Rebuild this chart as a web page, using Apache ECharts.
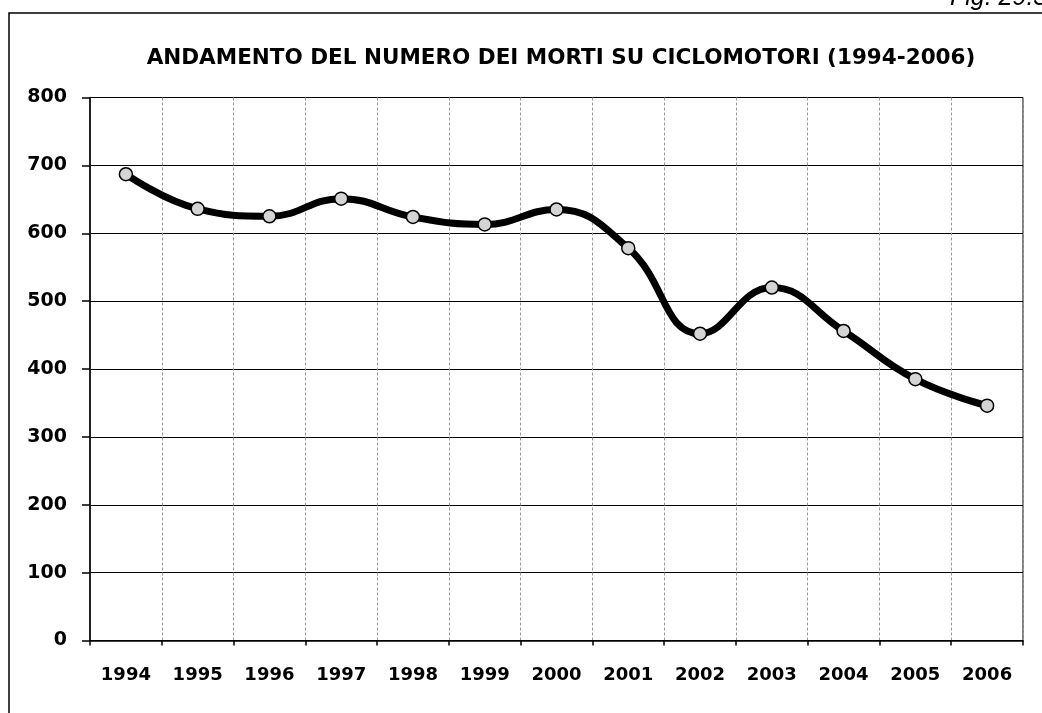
<!DOCTYPE html>
<html>
<head>
<meta charset="utf-8">
<script src="https://cdn.jsdelivr.net/npm/echarts@6/dist/echarts.min.js"></script>
<style>
html,body{margin:0;padding:0;background:#fff;}
#main{width:1042px;height:713px;}
</style>
</head>
<body>
<div id="main"></div>
<script>
var titleText = 'ANDAMENTO DEL NUMERO DEI MORTI SU CICLOMOTORI (1994-2006)';
var figLabel = 'Fig. 29.3';
var years = ['1994','1995','1996','1997','1998','1999','2000','2001','2002','2003','2004','2005','2006'];
var deaths = [687, 636, 625, 651, 624, 613, 635, 578, 452, 520, 456, 385, 346];
var yMin = 0, yMax = 800, yStep = 100;

var chart = echarts.init(document.getElementById('main'), null, {renderer:'canvas'});
chart.setOption({
  backgroundColor:'#fff',
  animation:false,
  title:{
    text:titleText,
    left:556, top:42, textAlign:'center',
    textStyle:{fontFamily:'DejaVu Sans', fontWeight:'bold', fontSize:21.5, color:'#000'}
  },
  graphic:[
    {type:'rect', shape:{x:9, y:13, width:1100, height:800}, style:{fill:null, stroke:'#000', lineWidth:1.5}, silent:true},
    {type:'text', left:950, top:-14, style:{text:figLabel, font:'italic 25px "Liberation Sans"', fill:'#000'}}
  ],
  grid:{left:90, right:19, top:97.5, bottom:72.5, show:true, borderColor:'#000', borderWidth:1, containLabel:false},
  xAxis:{
    type:'category', data:years, boundaryGap:true,
    axisLine:{lineStyle:{color:'#000', width:1.5}},
    axisTick:{show:true, length:5, lineStyle:{color:'#000', width:1.5}},
    axisLabel:{margin:26, color:'#000', fontFamily:'DejaVu Sans', fontWeight:'bold', fontSize:18},
    splitLine:{show:true, lineStyle:{color:'#999', type:[3,2], width:1}}
  },
  yAxis:{
    type:'value', min:yMin, max:yMax, interval:yStep,
    axisLine:{show:true, lineStyle:{color:'#000', width:1.5}},
    axisTick:{show:true, length:8, lineStyle:{color:'#000', width:1.5}},
    axisLabel:{margin:23, color:'#000', fontFamily:'DejaVu Sans', fontWeight:'bold', fontSize:19},
    splitLine:{show:true, lineStyle:{color:'#000', width:1.2}}
  },
  series:[{
    type:'line', data:deaths, smooth:0.45,
    lineStyle:{color:'#000', width:7},
    symbol:'circle', symbolSize:13,
    itemStyle:{color:'#d4d4d4', borderColor:'#000', borderWidth:1.5}
  }]
});
</script>
</body>
</html>
